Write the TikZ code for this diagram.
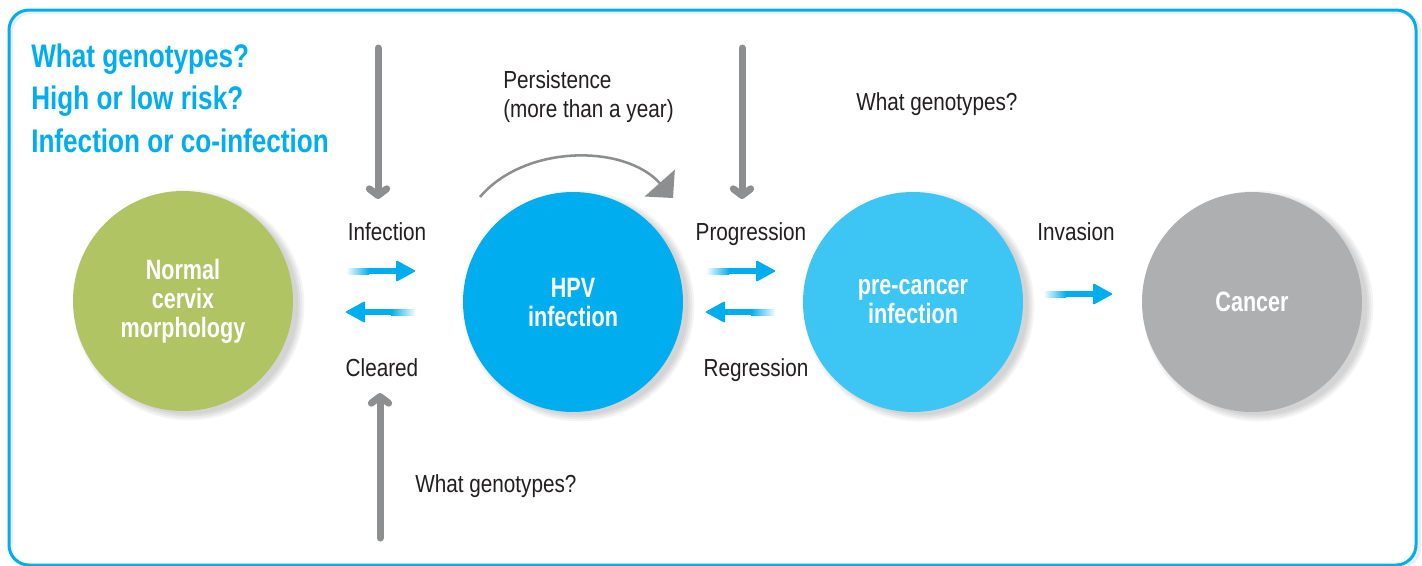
\documentclass[tikz,border=0pt]{standalone}
\usepackage{fontspec}
\setmainfont{Liberation Sans}
\newfontfamily\condreg[FakeStretch=0.84]{Liberation Sans}
\newfontfamily\condbold[FakeStretch=0.77]{Liberation Sans Bold}
\newfontfamily\condhead[FakeStretch=0.8]{Liberation Sans Bold}
\usetikzlibrary{arrows.meta}
\definecolor{hpvblue}{HTML}{00AEEF}
\definecolor{preblue}{HTML}{3DC6F3}
\definecolor{normgreen}{HTML}{B1C464}
\definecolor{cancergrey}{HTML}{AEAFB1}
\definecolor{arrowgrey}{HTML}{8C8E90}
\definecolor{textdark}{HTML}{231F20}
\tikzset{
  circ/.style={circle, minimum size=165pt, inner sep=0pt, text=white, align=center,
    font=\condbold\fontsize{21}{21.75}\selectfont},
  lbl/.style={inner sep=0pt, text=textdark, font=\condreg\fontsize{18.5}{22}\selectfont},
  headtext/.style={inner sep=0pt, text=hpvblue, anchor=base west, font=\condhead\fontsize{24.5}{30}\selectfont},
  greyarrow/.style={draw=arrowgrey, line width=5.25pt, line cap=round,
    -{Straight Barb[length=5pt,width=13pt,round]}},
  rarrow/.pic={
    \shade[left color=hpvblue!4, right color=hpvblue] (0,-3) rectangle (22,3);
    \fill[hpvblue] (21.5,-3) rectangle (50,3);
    \fill[hpvblue, rounded corners=1pt] (49,-11) -- (69,0) -- (49,11) -- cycle;
  },
  larrow/.pic={
    \fill[hpvblue, rounded corners=1pt] (20,-11) -- (0,0) -- (20,11) -- cycle;
    \fill[hpvblue] (19,-3) rectangle (46.5,3);
    \shade[left color=hpvblue, right color=hpvblue!4] (46,-3) rectangle (70,3);
  }
}
\begin{document}
\begin{tikzpicture}[x=0.75pt,y=-0.75pt]
\useasboundingbox (0,0) rectangle (1422,565);
\fill[white] (0,0) rectangle (1422,565);
% frame
\draw[black, opacity=0.07, line width=3pt, rounded corners=15pt] (11,12) rectangle (1419,567);
\draw[hpvblue, line width=2.25pt, rounded corners=15pt] (9,10) rectangle (1416,565);
% circle centres
\coordinate (cN) at (183,301);
\coordinate (cH) at (573,302);
\coordinate (cP) at (913,302);
\coordinate (cC) at (1252,302);
% soft shadows
\foreach \c in {cN,cH,cP,cC}{
  \foreach \r in {86.5,85,83.5,82}{
    \fill[black, opacity=0.045] ([shift={(6,4)}]\c) circle[radius=\r pt];
  }
}
% circles
\node[circ, fill=normgreen] (normal) at (cN) {Normal\\cervix\\morphology};
\node[circ, fill=hpvblue] (hpv) at (cH) {HPV\\infection};
\node[circ, fill=preblue] (pre) at (cP) {pre-cancer\\infection};
\node[circ, fill=cancergrey] (cancer) at (cC) {Cancer};
% heading
\node[headtext] (h1) at (31,67) {What genotypes?};
\node[headtext] (h2) at (31,109) {High or low risk?};
\node[headtext] (h3) at (31,152) {Infection or co-infection};
% labels
\node[lbl, anchor=base] (inf) at (387,240) {Infection};
\node[lbl, anchor=base] (clr) at (382,376) {Cleared};
\node[lbl, anchor=base west] (pers) at (503,88) {Persistence};
\node[lbl, anchor=base west] (pers2) at (503,117) {(more than a year)};
\node[lbl, anchor=base west] (wg1) at (856,110) {What genotypes?};
\node[lbl, anchor=base] (prog) at (751,240) {Progression};
\node[lbl, anchor=base] (regr) at (756,376) {Regression};
\node[lbl, anchor=base] (inv) at (1076,240) {Invasion};
\node[lbl, anchor=base west] (wg2) at (415,492) {What genotypes?};
% blue arrows
\pic (infarr) at (347,271) {rarrow};
\pic (clrarr) at (345,312) {larrow};
\pic (progarr) at (707,271) {rarrow};
\pic (regarr) at (705,312) {larrow};
\pic (invarr) at (1044,294) {rarrow};
% grey arrows
\coordinate (g1s) at (378,48);  \coordinate (g1e) at (378,199);
\coordinate (g2s) at (742,48);  \coordinate (g2e) at (742,199);
\coordinate (g3s) at (380,538); \coordinate (g3e) at (380,393);
\draw[greyarrow] (g1s) -- (g1e);
\draw[greyarrow] (g2s) -- (g2e);
\draw[greyarrow] (g3s) -- (g3e);
% persistence curve
\coordinate (cs) at (480,197);
\coordinate (ce) at (673,198);
\draw[arrowgrey, line width=1.9pt, -{Triangle[length=15pt,width=30pt]}]
  (cs) .. controls (525,144) and (625,144) .. (ce);
\end{tikzpicture}
\end{document}
